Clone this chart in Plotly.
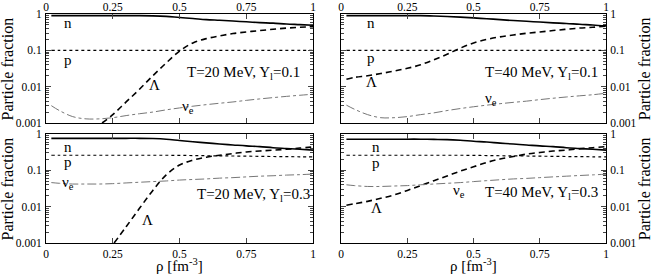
import plotly.graph_objects as go

# ---------------- data ----------------
rho = [0.02, 0.05, 0.1, 0.15, 0.2, 0.25, 0.3, 0.35, 0.4, 0.45, 0.5,
       0.55, 0.6, 0.65, 0.7, 0.75, 0.8, 0.85, 0.9, 0.95, 1.0]

# T=20 MeV, Yl=0.1
n_20_01 = [0.9, 0.9, 0.9, 0.9, 0.9, 0.9, 0.9, 0.9, 0.89, 0.86, 0.8,
           0.75, 0.7, 0.67, 0.64, 0.61, 0.58, 0.56, 0.53, 0.51, 0.49]
p_20_01 = [0.1] * 21
nu_20_01 = [0.003, 0.0022, 0.0015, 0.0013, 0.0013, 0.0014, 0.0016, 0.0018, 0.002, 0.0023, 0.0026,
            0.0029, 0.0032, 0.0035, 0.0038, 0.0042, 0.0046, 0.005, 0.0054, 0.0058, 0.0062]
rho_L_20_01 = [0.21, 0.25, 0.3, 0.35, 0.4, 0.45, 0.5, 0.55, 0.6, 0.65, 0.7, 0.75, 0.8, 0.85, 0.9, 0.95, 1.0]
L_20_01 = [0.001, 0.0017, 0.0038, 0.0085, 0.02, 0.045, 0.095, 0.16, 0.21, 0.25, 0.29,
           0.32, 0.35, 0.38, 0.41, 0.43, 0.45]

# T=40 MeV, Yl=0.1
n_40_01 = [0.9, 0.9, 0.9, 0.9, 0.9, 0.9, 0.9, 0.88, 0.85, 0.82, 0.78,
           0.74, 0.7, 0.66, 0.63, 0.6, 0.57, 0.55, 0.52, 0.5, 0.47]
p_40_01 = [0.1] * 21
nu_40_01 = [0.0031, 0.0024, 0.0017, 0.0014, 0.0014, 0.0015, 0.0017, 0.0019, 0.0022, 0.0025, 0.0028,
            0.0031, 0.0034, 0.0037, 0.004, 0.0044, 0.0048, 0.0052, 0.0056, 0.006, 0.0066]
L_40_01 = [0.016, 0.018, 0.02, 0.023, 0.027, 0.032, 0.04, 0.055, 0.078, 0.115, 0.16,
           0.2, 0.235, 0.265, 0.295, 0.32, 0.35, 0.38, 0.41, 0.43, 0.46]

# T=20 MeV, Yl=0.3
n_20_03 = [0.76, 0.76, 0.76, 0.76, 0.76, 0.76, 0.76, 0.76, 0.75, 0.72, 0.66,
           0.61, 0.57, 0.53, 0.5, 0.47, 0.45, 0.42, 0.4, 0.38, 0.36]
p_20_03 = [0.26, 0.26, 0.26, 0.26, 0.26, 0.26, 0.26, 0.26, 0.26, 0.26, 0.258,
           0.255, 0.252, 0.25, 0.248, 0.245, 0.243, 0.24, 0.238, 0.236, 0.234]
nu_20_03 = [0.046, 0.044, 0.042, 0.042, 0.042, 0.043, 0.045, 0.047, 0.049, 0.051, 0.054,
            0.056, 0.058, 0.061, 0.063, 0.066, 0.069, 0.071, 0.074, 0.076, 0.079]
rho_L_20_03 = [0.255, 0.3, 0.35, 0.4, 0.45, 0.5, 0.55, 0.6, 0.65, 0.7, 0.75, 0.8, 0.85, 0.9, 0.95, 1.0]
L_20_03 = [0.001, 0.0028, 0.009, 0.028, 0.075, 0.14, 0.19, 0.23, 0.26, 0.29, 0.32,
           0.34, 0.36, 0.38, 0.41, 0.44]

# T=40 MeV, Yl=0.3
n_40_03 = [0.72, 0.72, 0.72, 0.72, 0.72, 0.72, 0.72, 0.71, 0.7, 0.67, 0.63,
           0.6, 0.56, 0.53, 0.5, 0.47, 0.45, 0.42, 0.4, 0.38, 0.36]
p_40_03 = [0.26, 0.26, 0.26, 0.26, 0.26, 0.26, 0.26, 0.26, 0.26, 0.26, 0.258,
           0.255, 0.252, 0.25, 0.248, 0.245, 0.243, 0.24, 0.238, 0.236, 0.234]
nu_40_03 = [0.04, 0.038, 0.036, 0.036, 0.037, 0.038, 0.04, 0.042, 0.044, 0.046, 0.049,
            0.052, 0.055, 0.058, 0.06, 0.063, 0.066, 0.069, 0.072, 0.075, 0.078]
L_40_03 = [0.011, 0.012, 0.014, 0.017, 0.021, 0.028, 0.038, 0.052, 0.07, 0.095, 0.125,
           0.165, 0.205, 0.24, 0.28, 0.31, 0.34, 0.36, 0.39, 0.42, 0.45]

x_ticks = [0, 0.25, 0.5, 0.75, 1]
x_ticktext = ["0", "0.25", "0.5", "0.75", "1"]
y_ticks = [0.001, 0.01, 0.1, 1]
y_ticktext = ["0.001", "0.01", "0.1", "1"]
y_minor = [m * 10 ** e for e in (-3, -2, -1) for m in range(2, 10)]

panel_titles = ["T=20 MeV, Y<sub>l</sub>=0.1", "T=40 MeV, Y<sub>l</sub>=0.1",
                "T=20 MeV, Y<sub>l</sub>=0.3", "T=40 MeV, Y<sub>l</sub>=0.3"]

# ---------------- figure ----------------
FONT = "Liberation Serif, Times New Roman, serif"
fig = go.Figure()

panels = [
    dict(n=n_20_01, p=p_20_01, nu=nu_20_01, Lx=rho_L_20_01, L=L_20_01, ax=""),
    dict(n=n_40_01, p=p_40_01, nu=nu_40_01, Lx=rho, L=L_40_01, ax="2"),
    dict(n=n_20_03, p=p_20_03, nu=nu_20_03, Lx=rho_L_20_03, L=L_20_03, ax="3"),
    dict(n=n_40_03, p=p_40_03, nu=nu_40_03, Lx=rho, L=L_40_03, ax="4"),
]

for pn in panels:
    xa, ya = "x" + pn["ax"], "y" + pn["ax"]
    fig.add_trace(go.Scatter(x=rho, y=pn["n"], mode="lines", xaxis=xa, yaxis=ya,
                             line=dict(color="black", width=1.6, shape="spline")))
    fig.add_trace(go.Scatter(x=rho, y=pn["p"], mode="lines", xaxis=xa, yaxis=ya,
                             line=dict(color="black", width=1.2, dash="dot", shape="spline")))
    fig.add_trace(go.Scatter(x=pn["Lx"], y=pn["L"], mode="lines", xaxis=xa, yaxis=ya,
                             line=dict(color="black", width=1.6, dash="6px,4px", shape="spline")))
    fig.add_trace(go.Scatter(x=rho, y=pn["nu"], mode="lines", xaxis=xa, yaxis=ya,
                             line=dict(color="#777777", width=1.0, dash="dashdot", shape="spline")))

xd_left, xd_right = [0, 0.477], [0.527, 1]
yd_top, yd_bot = [0.524, 1], [0, 0.476]

def xaxis(domain, anchor, side):
    return dict(domain=domain, anchor=anchor, range=[0, 1], side=side, automargin=False,
                tickvals=x_ticks, ticktext=x_ticktext, ticks="inside", ticklen=5,
                mirror="allticks", showline=True, linecolor="black", linewidth=1,
                showgrid=False, zeroline=False,
                ticklabelstandoff=(-3 if side == "top" else 0),
                tickfont=dict(family=FONT, size=11.5, color="black"))

def yaxis(domain, anchor, side):
    return dict(domain=domain, anchor=anchor, type="log", range=[-3, 0], side=side,
                automargin=False,
                tickvals=y_ticks, ticktext=y_ticktext, ticks="inside", ticklen=5,
                minor=dict(tickvals=y_minor, ticks="inside", ticklen=3, showgrid=False),
                mirror="allticks", showline=True, linecolor="black", linewidth=1,
                showgrid=False, zeroline=False, ticklabelstandoff=1,
                tickfont=dict(family=FONT, size=11.5, color="black"))

fig.update_layout(
    template="none",
    width=654, height=279,
    margin=dict(l=46, r=48, t=14, b=36, autoexpand=False),
    paper_bgcolor="white", plot_bgcolor="white",
    showlegend=False,
    font=dict(family=FONT, color="black"),
    xaxis=xaxis(xd_left, "y", "top"),
    yaxis=yaxis(yd_top, "x", "left"),
    xaxis2=xaxis(xd_right, "y2", "top"),
    yaxis2=yaxis(yd_top, "x2", "right"),
    xaxis3=xaxis(xd_left, "y3", "bottom"),
    yaxis3=yaxis(yd_bot, "x3", "left"),
    xaxis4=xaxis(xd_right, "y4", "bottom"),
    yaxis4=yaxis(yd_bot, "x4", "right"),
)

ann = []
def lab(ax, x, y, text, size=15):
    ann.append(dict(xref="x" + ax, yref="y" + ax, x=x, y=y, text=text, showarrow=False,
                    font=dict(family=FONT, size=size, color="black")))

# curve labels (positions in data units: rho, log10 fraction)
lab("", 0.082, -0.25, "n"); lab("", 0.082, -1.27, "p")
lab("", 0.408, -1.95, "Λ"); lab("", 0.53, -2.55, "ν<sub>e</sub>")
lab("", 0.74, -1.62, panel_titles[0])
lab("2", 0.113, -0.25, "n"); lab("2", 0.113, -1.21, "p")
lab("2", 0.113, -1.87, "Λ"); lab("2", 0.566, -2.33, "ν<sub>e</sub>")
lab("2", 0.758, -1.62, panel_titles[1])
lab("3", 0.082, -0.36, "n"); lab("3", 0.082, -0.77, "p")
lab("3", 0.082, -1.36, "ν<sub>e</sub>"); lab("3", 0.38, -2.37, "Λ")
lab("3", 0.775, -1.68, panel_titles[2])
lab("4", 0.132, -0.36, "n"); lab("4", 0.132, -0.80, "p")
lab("4", 0.132, -2.04, "Λ"); lab("4", 0.445, -1.56, "ν<sub>e</sub>")
lab("4", 0.758, -1.62, panel_titles[3])

# axis titles
for yc in (0.762, 0.238):
    ann.append(dict(xref="paper", yref="paper", x=-0.068, y=yc, text="Particle fraction",
                    textangle=-90, showarrow=False, xanchor="center", yanchor="middle",
                    font=dict(family=FONT, size=16, color="black")))
    ann.append(dict(xref="paper", yref="paper", x=1.069, y=yc, text="Particle fraction",
                    textangle=-90, showarrow=False, xanchor="center", yanchor="middle",
                    font=dict(family=FONT, size=16, color="black")))
for xc in (0.2385, 0.7635):
    ann.append(dict(xref="paper", yref="paper", x=xc, y=-0.096, text="ρ [fm<sup>-3</sup>]",
                    showarrow=False, xanchor="center", yanchor="middle",
                    font=dict(family=FONT, size=15, color="black")))
fig.update_layout(annotations=ann)

fig.write_html(
    "out.html",
    config={"displayModeBar": False},
    post_script="document.body.style.margin='0';document.body.style.overflow='hidden';",
)
